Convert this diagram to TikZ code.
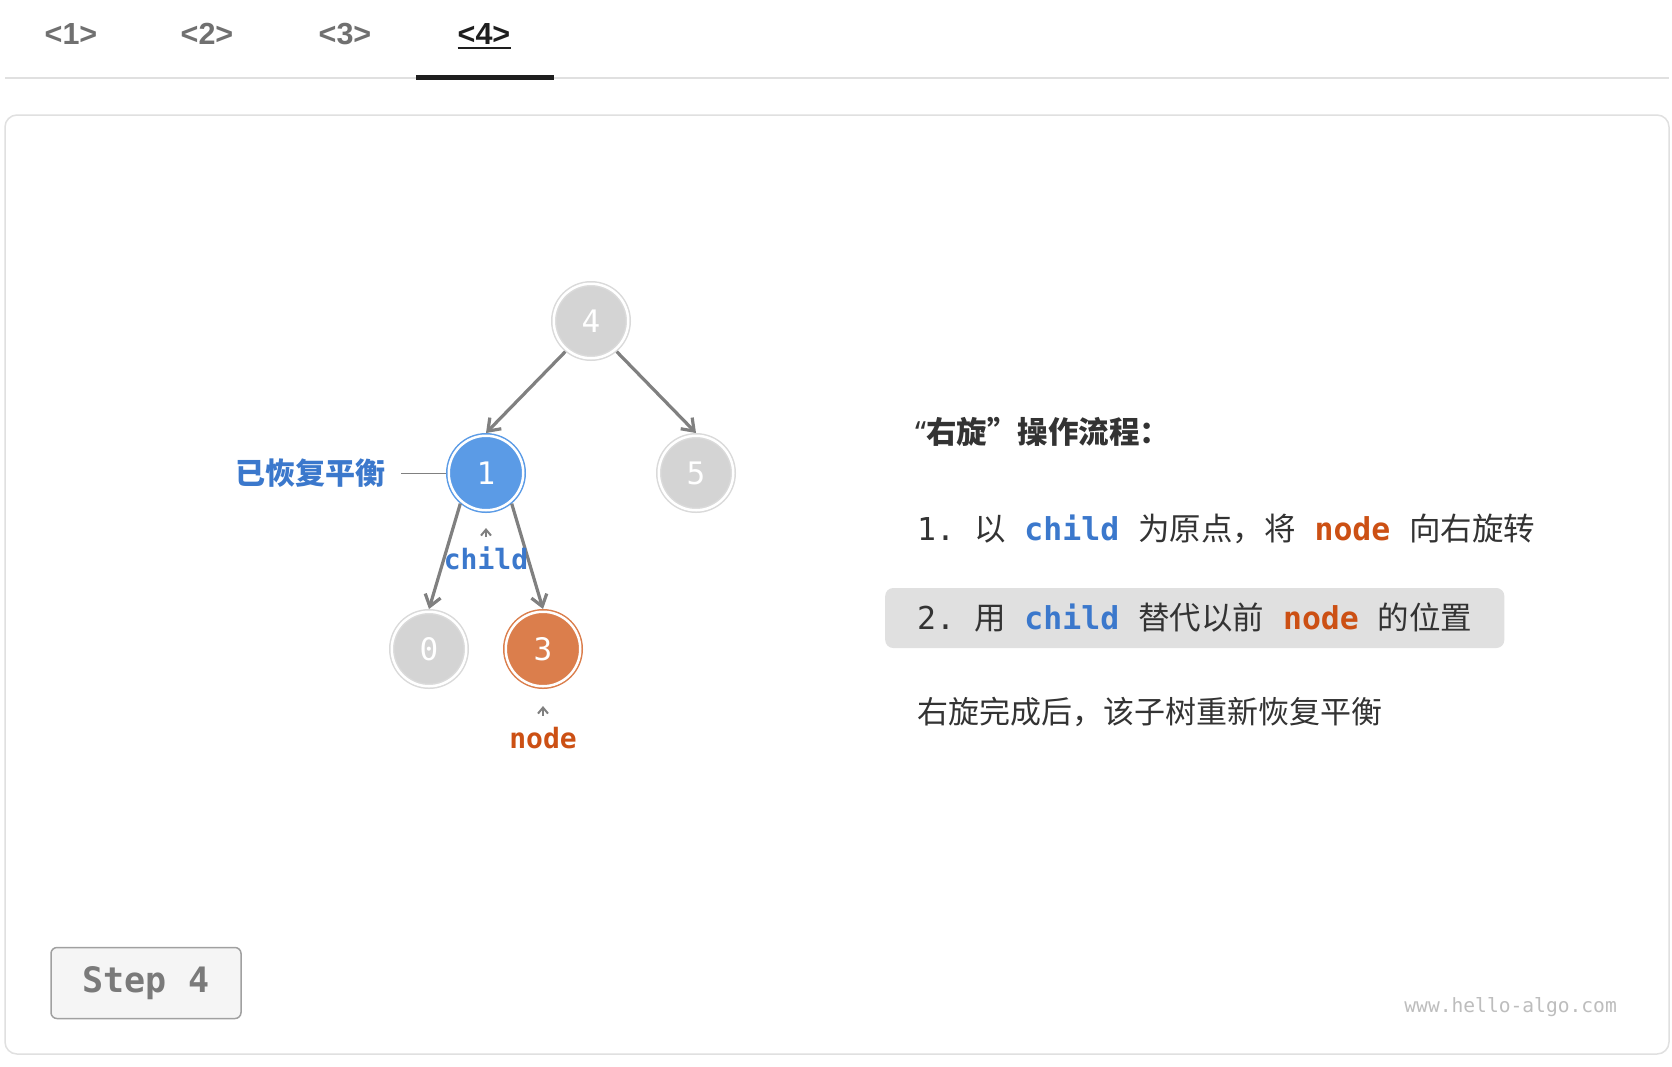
\documentclass[tikz,border=0pt]{standalone}
\usepackage{fontspec}
\setmainfont{Liberation Sans}
\newfontfamily\cjk{Noto Sans CJK SC}
\newfontfamily\mono{DejaVu Sans Mono}
\newfontfamily\latin{Noto Sans}
\usetikzlibrary{arrows.meta}

\definecolor{edgegray}{HTML}{808080}
\definecolor{nodegray}{HTML}{D4D4D4}
\definecolor{ringgray}{HTML}{DADADA}
\definecolor{nodeblue}{HTML}{5B9BE6}
\definecolor{nodeorange}{HTML}{DB7E4C}
\definecolor{txtblue}{HTML}{3B78CC}
\definecolor{txtorange}{HTML}{CC5014}
\definecolor{txtdark}{HTML}{333333}
\definecolor{tabgray}{HTML}{707070}
\definecolor{tabblack}{HTML}{1E1E1E}
\definecolor{hilitebg}{HTML}{E0E0E0}
\definecolor{panelline}{HTML}{E0E0E0}
\definecolor{stepfill}{HTML}{F5F5F5}
\definecolor{stepline}{HTML}{A0A0A0}
\definecolor{steptext}{HTML}{7A7A7A}
\definecolor{marktext}{HTML}{BDBDBD}

\newcommand{\blu}[1]{{\mono\bfseries\color{txtblue}#1}}
\newcommand{\org}[1]{{\mono\bfseries\color{txtorange}#1}}
\newcommand{\gap}{\hspace{0.6em}}

\tikzset{
  treenode/.style={circle, inner sep=0pt, minimum size=74.5pt, outer sep=2.75pt,
    line width=1.5pt, double=white, double distance=2.5pt, text=white,
    font={\mono\fontsize{31}{31}\selectfont}},
  graynode/.style={treenode, fill=nodegray, draw=ringgray},
  bluenode/.style={treenode, fill=nodeblue, draw=nodeblue},
  orangenode/.style={treenode, fill=nodeorange, draw=nodeorange},
  edge/.style={draw=edgegray, line width=3.2pt,
    -{Straight Barb[length=11pt,width=16pt]}},
  ptr/.style={draw=edgegray, line width=2pt,
    -{Straight Barb[length=6pt,width=10pt]}},
  ptrlabel/.style={inner sep=0pt, font={\mono\bfseries\fontsize{28}{28}\selectfont}},
  tab/.style={anchor=base, inner sep=0pt, text=tabgray,
    font={\bfseries\fontsize{30.5}{30.5}\selectfont}},
  line/.style={anchor=west, inner sep=0pt, text=txtdark,
    font={\cjk\fontsize{31.5}{31.5}\selectfont}},
}

\begin{document}
\begin{tikzpicture}[x=1pt, y=-1pt]
  \useasboundingbox (0,0) rectangle (1672,1066);
  \fill[white] (0,0) rectangle (1672,1066);

  % tab bar
  \draw[panelline, line width=2pt] (5,78) -- (1669,78);
  \draw[tabblack, line width=5pt] (416,77) -- (554,77);
  \node[tab] (tab1) at (71,44) {<1>};
  \node[tab] (tab2) at (207,44) {<2>};
  \node[tab] (tab3) at (345,44) {<3>};
  \node[tab, text=tabblack] (tab4) at (484,44) {<4>};
  \draw[tabblack, line width=2.5pt] ([yshift=-4pt]tab4.base west) -- ([yshift=-4pt]tab4.base east);

  % panel
  \draw[panelline, line width=1.5pt, rounded corners=12pt] (5,115) rectangle (1669,1054);

  % tree
  \node[graynode]   (n4) at (591,321) {4};
  \node[bluenode]   (n1) at (486,473) {1};
  \node[graynode]   (n5) at (696,473) {5};
  \node[graynode]   (n0) at (429,649) {0};
  \node[orangenode] (n3) at (543,649) {3};

  \draw[edge] (n4.-130) -- (n1.north);
  \draw[edge] (n4.-50)  -- (n5.north);
  \draw[edge] (n1.-130) -- (n0.north);
  \draw[edge] (n1.-50)  -- (n3.north);

  % labels on the tree
  \node[anchor=east, inner sep=0pt, text=txtblue,
        font={\cjk\bfseries\fontsize{30}{30}\selectfont}] (bal) at (386,473) {已恢复平衡};
  \draw[edgegray, line width=1pt, shorten <=15pt] (bal.east) -- (n1.west);

  \node[ptrlabel, text=txtblue] (childlbl) at (486,558) {child};
  \coordinate (childtip) at (486,528);
  \draw[ptr] ([yshift=9pt]childlbl.north) -- (childtip);

  \node[ptrlabel, text=txtorange] (nodelbl) at (543,738) {node};
  \coordinate (nodetip) at (543,706);
  \draw[ptr] ([yshift=11pt]nodelbl.north) -- (nodetip);

  % steps of the rotation
  \node[line, font={\cjk\bfseries\fontsize{30.5}{30.5}\selectfont}] (title) at (915,432)
    {{\latin\bfseries “}右旋”操作流程：};
  \node[line] (step1) at (917,529)
    {{\mono 1.}\gap 以\gap\blu{child}\gap 为原点，将\gap\org{node}\gap 向右旋转};
  \node[line, fill=hilitebg, rounded corners=8pt, inner xsep=32pt,
        minimum height=60pt] (step2) at (885,618)
    {{\mono 2.}\gap 用\gap\blu{child}\gap 替代以前\gap\org{node}\gap 的位置};
  \node[line, font={\cjk\fontsize{31}{31}\selectfont}] (done) at (917,712)
    {右旋完成后，该子树重新恢复平衡};

  % footer
  \node[draw=stepline, fill=stepfill, line width=1.5pt, rounded corners=6pt,
        minimum width=190pt, minimum height=71pt, text=steptext,
        font={\mono\bfseries\fontsize{35}{35}\selectfont}] (stepbtn) at (146,983) {Step 4};
  \node[anchor=east, inner sep=0pt, text=marktext,
        font={\mono\fontsize{19.6}{19.6}\selectfont}] (mark) at (1617,1007) {www.hello-algo.com};
\end{tikzpicture}
\end{document}
